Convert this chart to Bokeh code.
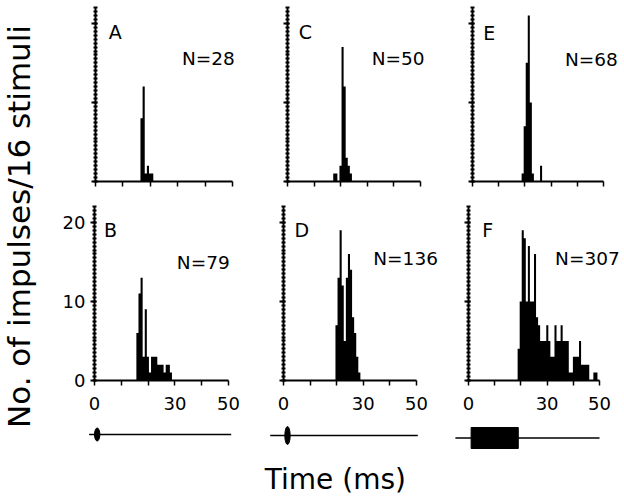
from bokeh.plotting import figure
from bokeh.models import Range1d, FixedTicker, Label
from bokeh.layouts import row, column
from bokeh.embed import file_html
from bokeh.resources import INLINE

# ---------------- data ----------------
BIN_MS = 50 / 64          # histogram bin width (ms)
X_MAX = 50
Y_MAX = 22
start_bin = {"A": 21, "B": 20, "C": 22, "D": 25, "E": 24, "F": 24}
counts_A = [8, 12, 1, 2, 1, 1]
counts_B = [6, 11, 13, 3, 9, 3, 1, 3, 3, 3, 2, 2, 2, 1, 2, 2, 1]
counts_C = [1, 1, 0, 2, 17, 12, 3, 2, 1]
counts_D = [7, 13, 19, 12, 5, 13, 16, 14, 8, 6, 3, 1]
counts_E = [1, 7, 15, 21, 10, 1, 0, 0, 0, 2]
counts_F = [4, 10, 19, 18, 10, 17, 10, 10, 16, 8, 7, 5, 5, 5, 7, 5, 3, 3, 7,
            5, 5, 7, 5, 5, 5, 1, 1, 3, 3, 3, 5, 2, 2, 2, 2, 0, 0, 1, 1]
counts = {"A": counts_A, "B": counts_B, "C": counts_C,
          "D": counts_D, "E": counts_E, "F": counts_F}
n_text = {"A": "N=28", "B": "N=79", "C": "N=50",
          "D": "N=136", "E": "N=68", "F": "N=307"}
x_ticks = [0, 10, 20, 30, 40, 50]
x_labelled = [0, 30, 50]
y_ticks = [0, 10, 20]
y_minor = [0.5 * i for i in range(45)]
# stimulus traces under each column (ms)
stim_on = [0.0, 0.5, 1.0]
stim_off = [2.0, 2.5, 19.0]
trace_start = [-2.0, -5.0, -5.0]
trace_end = [51.0, 50.5, 50.0]

# ---------------- layout / style (pixels) ----------------
FONT = "DejaVu Sans"
horiz = {
    "A": dict(w=192, left=47, len50=137),
    "B": dict(w=192, left=46, len50=134),
    "C": dict(w=200, left=47, len50=133),
    "D": dict(w=200, left=43, len50=133),
    "E": dict(w=184, left=32, len50=131),
    "F": dict(w=184, left=28, len50=131),
}
LEN22 = 174                       # pixels for 22 counts
TOP_ROW = dict(h=199, frame=181)  # frame from y=0 to baseline
BOT_ROW = dict(h=225, frame=181)
STIM_H = 75
letter_pos = {"A": (7.2, 18.9), "B": (6.0, 19.0), "C": (6.7, 18.9),
              "D": (6.9, 19.0), "E": (6.4, 18.8), "F": (7.3, 19.0)}
n_pos = {"A": (41.2, 15.5), "B": (40.6, 14.9), "C": (41.6, 15.5),
         "D": (45.9, 15.4), "E": (45.4, 15.4), "F": (45.4, 15.4)}
stim_geom = [dict(line_off=10, amp=6.5),
             dict(line_off=11, amp=9.0),
             dict(line_off=13.5, amp=10.5)]
bottom_of = ["B", "D", "F"]


def panel(pid, rowspec, bottom_row, y_labels):
    g = horiz[pid]
    scale = g["len50"] / X_MAX
    yscale = LEN22 / Y_MAX
    p = figure(width=g["w"], height=rowspec["h"], title=None,
               x_range=Range1d(0, (g["w"] - g["left"]) / scale),
               y_range=Range1d(0, rowspec["frame"] / yscale),
               output_backend="svg", toolbar_location=None, tools="",
               min_border_left=g["left"], min_border_right=0,
               min_border_top=0,
               min_border_bottom=rowspec["h"] - rowspec["frame"])
    p.outline_line_color = None
    p.grid.visible = False
    k0 = start_bin[pid]
    c = counts[pid]
    edges = [(k0 + i) * BIN_MS for i in range(len(c) + 1)]
    heights = list(c) + [0]
    p.varea_step(x=edges, y1=[0] * len(edges), y2=heights, step_mode="after",
                 fill_color="black")

    xa = p.xaxis[0]
    xa.bounds = (0, X_MAX)
    xa.ticker = FixedTicker(ticks=x_ticks, minor_ticks=[])
    xa.axis_line_width = 2
    xa.major_tick_line_width = 1.5
    xa.major_tick_out = 5
    xa.major_tick_in = 0
    if bottom_row:
        xa.major_label_overrides = {t: (str(t) if t in x_labelled else "") for t in x_ticks}
        xa.major_label_text_font = FONT
        xa.major_label_text_font_size = "18px"
        xa.major_label_text_color = "black"
        xa.major_label_standoff = 11
    else:
        xa.major_label_overrides = {t: "" for t in x_ticks}
        xa.major_label_standoff = 0
        xa.major_label_text_font_size = "1px"

    ya = p.yaxis[0]
    ya.bounds = (0, Y_MAX)
    ya.ticker = FixedTicker(ticks=y_ticks, minor_ticks=y_minor)
    ya.axis_line_width = 2
    ya.major_tick_line_width = 2
    ya.major_tick_out = 4
    ya.major_tick_in = 2
    ya.minor_tick_line_width = 2
    ya.minor_tick_out = 2
    ya.minor_tick_in = 2
    if y_labels:
        ya.major_label_text_font = FONT
        ya.major_label_text_font_size = "18px"
        ya.major_label_text_color = "black"
        ya.major_label_standoff = 5
    else:
        ya.major_label_overrides = {t: "" for t in y_ticks}
        ya.major_label_standoff = 0
        ya.major_label_text_font_size = "1px"

    lx, ly = letter_pos[pid]
    p.add_layout(Label(x=lx, y=ly, text=pid, text_font=FONT, text_font_size="19px",
                       text_align="center", text_baseline="middle", text_color="black"))
    nx, ny = n_pos[pid]
    p.add_layout(Label(x=nx, y=ny, text=n_text[pid], text_font=FONT, text_font_size="18.5px",
                       text_align="center", text_baseline="middle", text_color="black"))
    return p


def stim_fig(ci, with_title):
    sg = stim_geom[ci]
    g = horiz[bottom_of[ci]]
    scale = g["len50"] / X_MAX
    p = figure(width=g["w"], height=STIM_H, title=None,
               x_range=Range1d(-g["left"] / scale, (g["w"] - g["left"]) / scale),
               y_range=Range1d(-(STIM_H - sg["line_off"]), sg["line_off"]),
               output_backend="svg", toolbar_location=None, tools="",
               x_axis_location=None, y_axis_location=None,
               min_border_left=0, min_border_right=0, min_border_top=0, min_border_bottom=0)
    p.outline_line_color = None
    p.grid.visible = False
    p.line(x=[trace_start[ci], trace_end[ci]], y=[0, 0], line_color="black", line_width=1.5)
    amp = sg["amp"]
    if ci < 2:
        p.ellipse(x=[(stim_on[ci] + stim_off[ci]) / 2], y=[0],
                  width=stim_off[ci] - stim_on[ci], height=2 * amp,
                  fill_color="black", line_color="black")
    else:
        p.quad(left=[stim_on[ci]], right=[stim_off[ci]], bottom=[-amp], top=[amp],
               fill_color="black", line_color="black")
    if with_title:
        p.add_layout(Label(x=19.5, y=-44, text="Time (ms)", text_font=FONT,
                           text_font_size="28px", text_align="center",
                           text_baseline="middle", text_color="black"))
    return p


# y title strip
YT_W = 48
yt = figure(width=YT_W, height=TOP_ROW["h"] + BOT_ROW["h"] + STIM_H, title=None,
            x_range=Range1d(0, YT_W), y_range=Range1d(TOP_ROW["h"] + BOT_ROW["h"] + STIM_H, 0),
            output_backend="svg", toolbar_location=None, tools="",
            x_axis_location=None, y_axis_location=None,
            min_border_left=0, min_border_right=0, min_border_top=0, min_border_bottom=0)
yt.outline_line_color = None
yt.grid.visible = False
yt.add_layout(Label(x=18, y=226, text="No. of impulses/16 stimuli", text_font=FONT,
                    text_font_size="31px", angle=90, angle_units="deg",
                    text_align="center", text_baseline="middle", text_color="black"))

top = row(panel("A", TOP_ROW, False, False), panel("C", TOP_ROW, False, False),
          panel("E", TOP_ROW, False, False), spacing=0)
bot = row(panel("B", BOT_ROW, True, True), panel("D", BOT_ROW, True, False),
          panel("F", BOT_ROW, True, False), spacing=0)
stims = row(stim_fig(0, False), stim_fig(1, True), stim_fig(2, False), spacing=0)
layout = row(yt, column(top, bot, stims, spacing=0), spacing=0)

open("out.html", "w").write(file_html(layout, INLINE))
